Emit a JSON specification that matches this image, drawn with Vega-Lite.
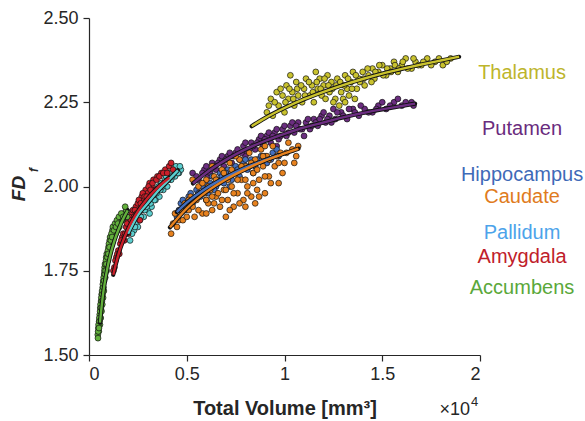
{
  "$schema": "https://vega.github.io/schema/vega-lite/v6.json",
  "width": 391,
  "height": 337,
  "autosize": {"type": "none"},
  "padding": {"left": 89, "top": 18, "right": 105, "bottom": 66},
  "background": "white",
  "config": {
    "view": {"stroke": null},
    "font": "Liberation Sans",
    "axis": {
      "grid": false,
      "domainColor": "#262626",
      "domainWidth": 1.2,
      "tickColor": "#262626",
      "tickWidth": 1.2,
      "tickSize": 6,
      "labelFont": "Liberation Sans",
      "labelFontSize": 18,
      "labelColor": "#262626",
      "titleFont": "Liberation Sans",
      "titleColor": "#262626"
    }
  },
  "datasets": {
    "pts": [
      {"g":"Putamen","v":5300,"fd":2.04},{"g":"Putamen","v":5600,"fd":2.02},{"g":"Putamen","v":5900,"fd":2.05},{"g":"Putamen","v":6100,"fd":2.03},{"g":"Putamen","v":6300,"fd":2.07},{"g":"Putamen","v":6500,"fd":2.05},{"g":"Putamen","v":6700,"fd":2.08},{"g":"Putamen","v":6900,"fd":2.06},{"g":"Putamen","v":7100,"fd":2.09},{"g":"Putamen","v":7300,"fd":2.07},{"g":"Putamen","v":7500,"fd":2.10},{"g":"Putamen","v":7700,"fd":2.08},{"g":"Putamen","v":7900,"fd":2.12},{"g":"Putamen","v":8100,"fd":2.10},{"g":"Putamen","v":8300,"fd":2.13},{"g":"Putamen","v":8500,"fd":2.11},{"g":"Putamen","v":8700,"fd":2.14},{"g":"Putamen","v":8900,"fd":2.12},{"g":"Putamen","v":9100,"fd":2.15},{"g":"Putamen","v":9300,"fd":2.13},{"g":"Putamen","v":9500,"fd":2.16},{"g":"Putamen","v":9700,"fd":2.14},{"g":"Putamen","v":9900,"fd":2.17},{"g":"Putamen","v":10100,"fd":2.15},{"g":"Putamen","v":10300,"fd":2.18},{"g":"Putamen","v":10500,"fd":2.16},{"g":"Putamen","v":10700,"fd":2.19},{"g":"Putamen","v":10900,"fd":2.17},{"g":"Putamen","v":11100,"fd":2.19},{"g":"Putamen","v":11300,"fd":2.17},{"g":"Putamen","v":11500,"fd":2.20},{"g":"Putamen","v":11700,"fd":2.18},{"g":"Putamen","v":11900,"fd":2.21},{"g":"Putamen","v":12100,"fd":2.19},{"g":"Putamen","v":12300,"fd":2.21},{"g":"Putamen","v":12600,"fd":2.20},{"g":"Putamen","v":12900,"fd":2.22},{"g":"Putamen","v":13200,"fd":2.20},{"g":"Putamen","v":13500,"fd":2.23},{"g":"Putamen","v":13800,"fd":2.21},{"g":"Putamen","v":14100,"fd":2.23},{"g":"Putamen","v":14500,"fd":2.22},{"g":"Putamen","v":14800,"fd":2.24},{"g":"Putamen","v":15200,"fd":2.23},{"g":"Putamen","v":15600,"fd":2.25},{"g":"Putamen","v":16000,"fd":2.24},{"g":"Putamen","v":16500,"fd":2.25},{"g":"Putamen","v":8000,"fd":2.09},{"g":"Putamen","v":9600,"fd":2.12},{"g":"Putamen","v":11000,"fd":2.15},{"g":"Putamen","v":7000,"fd":2.04},{"g":"Putamen","v":12500,"fd":2.23},
      {"g":"Putamen","v":5500,"fd":2.03},{"g":"Putamen","v":5800,"fd":2.04},{"g":"Putamen","v":6000,"fd":2.06},{"g":"Putamen","v":6200,"fd":2.04},{"g":"Putamen","v":6400,"fd":2.06},{"g":"Putamen","v":6600,"fd":2.07},{"g":"Putamen","v":6800,"fd":2.09},{"g":"Putamen","v":7000,"fd":2.08},{"g":"Putamen","v":7200,"fd":2.10},{"g":"Putamen","v":7400,"fd":2.09},{"g":"Putamen","v":7600,"fd":2.11},{"g":"Putamen","v":7800,"fd":2.10},{"g":"Putamen","v":8000,"fd":2.13},{"g":"Putamen","v":8200,"fd":2.11},{"g":"Putamen","v":8400,"fd":2.12},{"g":"Putamen","v":8600,"fd":2.13},{"g":"Putamen","v":8800,"fd":2.15},{"g":"Putamen","v":9000,"fd":2.14},{"g":"Putamen","v":9200,"fd":2.16},{"g":"Putamen","v":9400,"fd":2.15},{"g":"Putamen","v":9600,"fd":2.17},{"g":"Putamen","v":9800,"fd":2.15},{"g":"Putamen","v":10000,"fd":2.18},{"g":"Putamen","v":10200,"fd":2.16},{"g":"Putamen","v":10400,"fd":2.19},{"g":"Putamen","v":10600,"fd":2.18},{"g":"Putamen","v":10800,"fd":2.17},{"g":"Putamen","v":11200,"fd":2.20},{"g":"Putamen","v":11400,"fd":2.18},{"g":"Putamen","v":11600,"fd":2.19},{"g":"Putamen","v":11800,"fd":2.20},{"g":"Putamen","v":12000,"fd":2.22},{"g":"Putamen","v":12200,"fd":2.20},{"g":"Putamen","v":12400,"fd":2.19},{"g":"Putamen","v":12700,"fd":2.22},{"g":"Putamen","v":13000,"fd":2.21},{"g":"Putamen","v":13300,"fd":2.23},{"g":"Putamen","v":13600,"fd":2.22},{"g":"Putamen","v":13900,"fd":2.24},{"g":"Putamen","v":14300,"fd":2.22},{"g":"Putamen","v":14700,"fd":2.23},{"g":"Putamen","v":15000,"fd":2.25},{"g":"Putamen","v":15400,"fd":2.24},{"g":"Putamen","v":15800,"fd":2.26},{"g":"Putamen","v":16200,"fd":2.25},{"g":"Putamen","v":16600,"fd":2.24},
      {"g":"Thalamus","v":9100,"fd":2.22},{"g":"Thalamus","v":9300,"fd":2.26},{"g":"Thalamus","v":9400,"fd":2.21},{"g":"Thalamus","v":9600,"fd":2.28},{"g":"Thalamus","v":9700,"fd":2.24},{"g":"Thalamus","v":9900,"fd":2.27},{"g":"Thalamus","v":10000,"fd":2.22},{"g":"Thalamus","v":10100,"fd":2.30},{"g":"Thalamus","v":10200,"fd":2.26},{"g":"Thalamus","v":10400,"fd":2.28},{"g":"Thalamus","v":10500,"fd":2.24},{"g":"Thalamus","v":10600,"fd":2.31},{"g":"Thalamus","v":10700,"fd":2.27},{"g":"Thalamus","v":10900,"fd":2.25},{"g":"Thalamus","v":11000,"fd":2.29},{"g":"Thalamus","v":11100,"fd":2.32},{"g":"Thalamus","v":11300,"fd":2.27},{"g":"Thalamus","v":11400,"fd":2.30},{"g":"Thalamus","v":11500,"fd":2.25},{"g":"Thalamus","v":11700,"fd":2.29},{"g":"Thalamus","v":11800,"fd":2.32},{"g":"Thalamus","v":11900,"fd":2.27},{"g":"Thalamus","v":12000,"fd":2.30},{"g":"Thalamus","v":12200,"fd":2.33},{"g":"Thalamus","v":12300,"fd":2.28},{"g":"Thalamus","v":12400,"fd":2.31},{"g":"Thalamus","v":12600,"fd":2.26},{"g":"Thalamus","v":12700,"fd":2.32},{"g":"Thalamus","v":12900,"fd":2.28},{"g":"Thalamus","v":13000,"fd":2.26},{"g":"Thalamus","v":13100,"fd":2.33},{"g":"Thalamus","v":13200,"fd":2.29},{"g":"Thalamus","v":13400,"fd":2.31},{"g":"Thalamus","v":13500,"fd":2.34},{"g":"Thalamus","v":13700,"fd":2.29},{"g":"Thalamus","v":13800,"fd":2.32},{"g":"Thalamus","v":14000,"fd":2.34},{"g":"Thalamus","v":14100,"fd":2.30},{"g":"Thalamus","v":14300,"fd":2.33},{"g":"Thalamus","v":14500,"fd":2.35},{"g":"Thalamus","v":14600,"fd":2.32},{"g":"Thalamus","v":14800,"fd":2.34},{"g":"Thalamus","v":15000,"fd":2.36},{"g":"Thalamus","v":15200,"fd":2.33},{"g":"Thalamus","v":15400,"fd":2.35},{"g":"Thalamus","v":15600,"fd":2.37},{"g":"Thalamus","v":15800,"fd":2.34},{"g":"Thalamus","v":16000,"fd":2.36},{"g":"Thalamus","v":16200,"fd":2.38},{"g":"Thalamus","v":16500,"fd":2.35},{"g":"Thalamus","v":16700,"fd":2.37},{"g":"Thalamus","v":17000,"fd":2.36},{"g":"Thalamus","v":17300,"fd":2.38},{"g":"Thalamus","v":17700,"fd":2.37},{"g":"Thalamus","v":18100,"fd":2.36},{"g":"Thalamus","v":18500,"fd":2.38},{"g":"Thalamus","v":12500,"fd":2.25},{"g":"Thalamus","v":13300,"fd":2.27},{"g":"Thalamus","v":10300,"fd":2.33},{"g":"Thalamus","v":11600,"fd":2.34},
      {"g":"Thalamus","v":9200,"fd":2.24},{"g":"Thalamus","v":9500,"fd":2.25},{"g":"Thalamus","v":9800,"fd":2.29},{"g":"Thalamus","v":10050,"fd":2.25},{"g":"Thalamus","v":10250,"fd":2.29},{"g":"Thalamus","v":10450,"fd":2.26},{"g":"Thalamus","v":10650,"fd":2.29},{"g":"Thalamus","v":10850,"fd":2.30},{"g":"Thalamus","v":11050,"fd":2.27},{"g":"Thalamus","v":11250,"fd":2.31},{"g":"Thalamus","v":11450,"fd":2.28},{"g":"Thalamus","v":11650,"fd":2.31},{"g":"Thalamus","v":11850,"fd":2.29},{"g":"Thalamus","v":12050,"fd":2.32},{"g":"Thalamus","v":12250,"fd":2.30},{"g":"Thalamus","v":12450,"fd":2.29},{"g":"Thalamus","v":12650,"fd":2.30},{"g":"Thalamus","v":12850,"fd":2.31},{"g":"Thalamus","v":13050,"fd":2.30},{"g":"Thalamus","v":13250,"fd":2.32},{"g":"Thalamus","v":13450,"fd":2.29},{"g":"Thalamus","v":13650,"fd":2.33},{"g":"Thalamus","v":13850,"fd":2.31},{"g":"Thalamus","v":14050,"fd":2.32},{"g":"Thalamus","v":14250,"fd":2.35},{"g":"Thalamus","v":14450,"fd":2.31},{"g":"Thalamus","v":14650,"fd":2.34},{"g":"Thalamus","v":14850,"fd":2.36},{"g":"Thalamus","v":15050,"fd":2.33},{"g":"Thalamus","v":15250,"fd":2.35},{"g":"Thalamus","v":15450,"fd":2.34},{"g":"Thalamus","v":15650,"fd":2.36},{"g":"Thalamus","v":15850,"fd":2.35},{"g":"Thalamus","v":16050,"fd":2.37},{"g":"Thalamus","v":16300,"fd":2.35},{"g":"Thalamus","v":16600,"fd":2.38},{"g":"Thalamus","v":16850,"fd":2.36},{"g":"Thalamus","v":17100,"fd":2.37},{"g":"Thalamus","v":17500,"fd":2.36},{"g":"Thalamus","v":17900,"fd":2.38},{"g":"Thalamus","v":18300,"fd":2.37},{"g":"Thalamus","v":12800,"fd":2.24},{"g":"Thalamus","v":13100,"fd":2.25},{"g":"Thalamus","v":13600,"fd":2.26},{"g":"Thalamus","v":12100,"fd":2.26},
      {"g":"Hippocampus","v":4500,"fd":1.91},{"g":"Hippocampus","v":4700,"fd":1.95},{"g":"Hippocampus","v":4900,"fd":1.93},{"g":"Hippocampus","v":5100,"fd":1.97},{"g":"Hippocampus","v":5300,"fd":1.95},{"g":"Hippocampus","v":5500,"fd":1.99},{"g":"Hippocampus","v":5700,"fd":1.97},{"g":"Hippocampus","v":5900,"fd":2.01},{"g":"Hippocampus","v":6100,"fd":1.98},{"g":"Hippocampus","v":6300,"fd":2.03},{"g":"Hippocampus","v":6500,"fd":2.00},{"g":"Hippocampus","v":6700,"fd":2.04},{"g":"Hippocampus","v":6900,"fd":2.01},{"g":"Hippocampus","v":7100,"fd":2.05},{"g":"Hippocampus","v":7300,"fd":2.02},{"g":"Hippocampus","v":7500,"fd":2.06},{"g":"Hippocampus","v":7700,"fd":2.03},{"g":"Hippocampus","v":7900,"fd":2.07},{"g":"Hippocampus","v":8100,"fd":2.05},{"g":"Hippocampus","v":8300,"fd":2.08},{"g":"Hippocampus","v":8500,"fd":2.06},{"g":"Hippocampus","v":8800,"fd":2.09},{"g":"Hippocampus","v":9100,"fd":2.07},{"g":"Hippocampus","v":9400,"fd":2.10},{"g":"Hippocampus","v":9700,"fd":2.09},{"g":"Hippocampus","v":6000,"fd":1.96},{"g":"Hippocampus","v":7200,"fd":2.00},{"g":"Hippocampus","v":8400,"fd":2.04},
      {"g":"Hippocampus","v":4600,"fd":1.93},{"g":"Hippocampus","v":4800,"fd":1.96},{"g":"Hippocampus","v":5000,"fd":1.95},{"g":"Hippocampus","v":5200,"fd":1.98},{"g":"Hippocampus","v":5400,"fd":1.96},{"g":"Hippocampus","v":5600,"fd":1.98},{"g":"Hippocampus","v":5800,"fd":2.00},{"g":"Hippocampus","v":6200,"fd":2.01},{"g":"Hippocampus","v":6400,"fd":1.99},{"g":"Hippocampus","v":6600,"fd":2.02},{"g":"Hippocampus","v":6800,"fd":2.03},{"g":"Hippocampus","v":7000,"fd":2.04},{"g":"Hippocampus","v":7400,"fd":2.04},{"g":"Hippocampus","v":7600,"fd":2.05},{"g":"Hippocampus","v":7800,"fd":2.06},{"g":"Hippocampus","v":8000,"fd":2.08},{"g":"Hippocampus","v":8200,"fd":2.06},{"g":"Hippocampus","v":8600,"fd":2.08},{"g":"Hippocampus","v":9000,"fd":2.09},{"g":"Hippocampus","v":9300,"fd":2.08},{"g":"Hippocampus","v":9600,"fd":2.11},
      {"g":"Caudate","v":4200,"fd":1.86},{"g":"Caudate","v":4400,"fd":1.92},{"g":"Caudate","v":4600,"fd":1.90},{"g":"Caudate","v":4800,"fd":1.90},{"g":"Caudate","v":4900,"fd":1.95},{"g":"Caudate","v":5100,"fd":1.93},{"g":"Caudate","v":5200,"fd":1.97},{"g":"Caudate","v":5400,"fd":1.91},{"g":"Caudate","v":5500,"fd":1.96},{"g":"Caudate","v":5600,"fd":2.00},{"g":"Caudate","v":5800,"fd":1.92},{"g":"Caudate","v":5900,"fd":1.98},{"g":"Caudate","v":6000,"fd":2.02},{"g":"Caudate","v":6100,"fd":1.95},{"g":"Caudate","v":6200,"fd":1.99},{"g":"Caudate","v":6300,"fd":1.93},{"g":"Caudate","v":6400,"fd":2.03},{"g":"Caudate","v":6500,"fd":1.97},{"g":"Caudate","v":6600,"fd":2.01},{"g":"Caudate","v":6700,"fd":1.94},{"g":"Caudate","v":6800,"fd":2.05},{"g":"Caudate","v":6900,"fd":1.99},{"g":"Caudate","v":7000,"fd":2.03},{"g":"Caudate","v":7100,"fd":1.96},{"g":"Caudate","v":7200,"fd":2.07},{"g":"Caudate","v":7300,"fd":2.00},{"g":"Caudate","v":7400,"fd":1.94},{"g":"Caudate","v":7500,"fd":2.04},{"g":"Caudate","v":7600,"fd":1.98},{"g":"Caudate","v":7700,"fd":2.08},{"g":"Caudate","v":7800,"fd":2.02},{"g":"Caudate","v":7900,"fd":1.96},{"g":"Caudate","v":8000,"fd":2.06},{"g":"Caudate","v":8100,"fd":2.00},{"g":"Caudate","v":8200,"fd":2.10},{"g":"Caudate","v":8300,"fd":1.97},{"g":"Caudate","v":8400,"fd":2.04},{"g":"Caudate","v":8500,"fd":2.08},{"g":"Caudate","v":8600,"fd":1.99},{"g":"Caudate","v":8700,"fd":2.02},{"g":"Caudate","v":8800,"fd":2.11},{"g":"Caudate","v":8900,"fd":2.06},{"g":"Caudate","v":9000,"fd":1.98},{"g":"Caudate","v":9100,"fd":2.09},{"g":"Caudate","v":9200,"fd":2.03},{"g":"Caudate","v":9400,"fd":2.12},{"g":"Caudate","v":9500,"fd":2.06},{"g":"Caudate","v":9700,"fd":2.01},{"g":"Caudate","v":9800,"fd":2.10},{"g":"Caudate","v":10000,"fd":2.07},{"g":"Caudate","v":10200,"fd":2.13},{"g":"Caudate","v":10500,"fd":2.07},{"g":"Caudate","v":10700,"fd":2.12},{"g":"Caudate","v":6300,"fd":2.06},{"g":"Caudate","v":7500,"fd":2.09},{"g":"Caudate","v":5300,"fd":2.02},{"g":"Caudate","v":8500,"fd":1.95},{"g":"Caudate","v":7000,"fd":1.91},
      {"g":"Caudate","v":4300,"fd":1.89},{"g":"Caudate","v":4500,"fd":1.88},{"g":"Caudate","v":4700,"fd":1.93},{"g":"Caudate","v":5000,"fd":1.91},{"g":"Caudate","v":5100,"fd":1.96},{"g":"Caudate","v":5300,"fd":1.94},{"g":"Caudate","v":5600,"fd":1.93},{"g":"Caudate","v":5700,"fd":1.98},{"g":"Caudate","v":5800,"fd":2.01},{"g":"Caudate","v":6000,"fd":1.96},{"g":"Caudate","v":6100,"fd":2.00},{"g":"Caudate","v":6300,"fd":1.97},{"g":"Caudate","v":6400,"fd":1.95},{"g":"Caudate","v":6500,"fd":2.02},{"g":"Caudate","v":6600,"fd":1.98},{"g":"Caudate","v":6800,"fd":1.96},{"g":"Caudate","v":6900,"fd":2.04},{"g":"Caudate","v":7000,"fd":1.99},{"g":"Caudate","v":7100,"fd":2.02},{"g":"Caudate","v":7300,"fd":2.05},{"g":"Caudate","v":7400,"fd":1.98},{"g":"Caudate","v":7600,"fd":2.02},{"g":"Caudate","v":7700,"fd":1.95},{"g":"Caudate","v":7800,"fd":2.06},{"g":"Caudate","v":8000,"fd":2.02},{"g":"Caudate","v":8100,"fd":1.98},{"g":"Caudate","v":8300,"fd":2.07},{"g":"Caudate","v":8400,"fd":2.01},{"g":"Caudate","v":8600,"fd":2.05},{"g":"Caudate","v":8700,"fd":1.97},{"g":"Caudate","v":8900,"fd":2.09},{"g":"Caudate","v":9000,"fd":2.03},{"g":"Caudate","v":9200,"fd":2.08},{"g":"Caudate","v":9300,"fd":2.01},{"g":"Caudate","v":9600,"fd":2.09},{"g":"Caudate","v":9900,"fd":2.04},{"g":"Caudate","v":10100,"fd":2.10},{"g":"Caudate","v":10400,"fd":2.11},{"g":"Caudate","v":10600,"fd":2.09},{"g":"Caudate","v":7200,"fd":1.93},{"g":"Caudate","v":8000,"fd":1.94},{"g":"Caudate","v":9700,"fd":2.07},{"g":"Caudate","v":6000,"fd":1.92},{"g":"Caudate","v":9000,"fd":2.12},
      {"g":"Pallidum","v":2100,"fd":1.84},{"g":"Pallidum","v":2300,"fd":1.87},{"g":"Pallidum","v":2400,"fd":1.89},{"g":"Pallidum","v":2600,"fd":1.90},{"g":"Pallidum","v":2700,"fd":1.93},{"g":"Pallidum","v":2800,"fd":1.91},{"g":"Pallidum","v":2900,"fd":1.95},{"g":"Pallidum","v":3000,"fd":1.93},{"g":"Pallidum","v":3100,"fd":1.96},{"g":"Pallidum","v":3200,"fd":1.94},{"g":"Pallidum","v":3300,"fd":1.98},{"g":"Pallidum","v":3400,"fd":1.96},{"g":"Pallidum","v":3500,"fd":1.99},{"g":"Pallidum","v":3600,"fd":1.97},{"g":"Pallidum","v":3700,"fd":2.01},{"g":"Pallidum","v":3800,"fd":1.99},{"g":"Pallidum","v":3900,"fd":2.02},{"g":"Pallidum","v":4000,"fd":2.00},{"g":"Pallidum","v":4100,"fd":2.03},{"g":"Pallidum","v":4200,"fd":2.02},{"g":"Pallidum","v":4300,"fd":2.04},{"g":"Pallidum","v":4400,"fd":2.03},{"g":"Pallidum","v":4500,"fd":2.05},{"g":"Pallidum","v":4600,"fd":2.04},{"g":"Pallidum","v":4700,"fd":2.05},{"g":"Pallidum","v":2500,"fd":1.88},{"g":"Pallidum","v":3100,"fd":1.92},{"g":"Pallidum","v":3600,"fd":2.00},
      {"g":"Pallidum","v":2200,"fd":1.86},{"g":"Pallidum","v":2350,"fd":1.88},{"g":"Pallidum","v":2450,"fd":1.91},{"g":"Pallidum","v":2550,"fd":1.92},{"g":"Pallidum","v":2650,"fd":1.91},{"g":"Pallidum","v":2750,"fd":1.94},{"g":"Pallidum","v":2850,"fd":1.93},{"g":"Pallidum","v":2950,"fd":1.94},{"g":"Pallidum","v":3050,"fd":1.97},{"g":"Pallidum","v":3150,"fd":1.95},{"g":"Pallidum","v":3250,"fd":1.97},{"g":"Pallidum","v":3350,"fd":1.96},{"g":"Pallidum","v":3450,"fd":1.98},{"g":"Pallidum","v":3550,"fd":2.00},{"g":"Pallidum","v":3650,"fd":1.99},{"g":"Pallidum","v":3750,"fd":2.00},{"g":"Pallidum","v":3850,"fd":2.01},{"g":"Pallidum","v":3950,"fd":2.03},{"g":"Pallidum","v":4050,"fd":2.02},{"g":"Pallidum","v":4150,"fd":2.04},{"g":"Pallidum","v":4250,"fd":2.03},{"g":"Pallidum","v":4350,"fd":2.05},{"g":"Pallidum","v":4450,"fd":2.06},{"g":"Pallidum","v":4550,"fd":2.04},{"g":"Pallidum","v":4650,"fd":2.06},
      {"g":"Amygdala","v":1300,"fd":1.76},{"g":"Amygdala","v":1400,"fd":1.79},{"g":"Amygdala","v":1500,"fd":1.81},{"g":"Amygdala","v":1600,"fd":1.83},{"g":"Amygdala","v":1700,"fd":1.85},{"g":"Amygdala","v":1800,"fd":1.84},{"g":"Amygdala","v":1900,"fd":1.88},{"g":"Amygdala","v":2000,"fd":1.90},{"g":"Amygdala","v":2100,"fd":1.89},{"g":"Amygdala","v":2200,"fd":1.92},{"g":"Amygdala","v":2300,"fd":1.91},{"g":"Amygdala","v":2400,"fd":1.94},{"g":"Amygdala","v":2500,"fd":1.95},{"g":"Amygdala","v":2600,"fd":1.93},{"g":"Amygdala","v":2700,"fd":1.97},{"g":"Amygdala","v":2800,"fd":1.96},{"g":"Amygdala","v":2900,"fd":1.99},{"g":"Amygdala","v":3000,"fd":1.98},{"g":"Amygdala","v":3100,"fd":2.01},{"g":"Amygdala","v":3200,"fd":2.00},{"g":"Amygdala","v":3300,"fd":2.02},{"g":"Amygdala","v":3500,"fd":2.03},{"g":"Amygdala","v":3700,"fd":2.04},{"g":"Amygdala","v":3900,"fd":2.05},{"g":"Amygdala","v":4100,"fd":2.06},{"g":"Amygdala","v":4300,"fd":2.05},{"g":"Amygdala","v":2000,"fd":1.86},{"g":"Amygdala","v":2600,"fd":1.90},{"g":"Amygdala","v":3400,"fd":1.99},
      {"g":"Amygdala","v":1250,"fd":1.75},{"g":"Amygdala","v":1350,"fd":1.78},{"g":"Amygdala","v":1450,"fd":1.80},{"g":"Amygdala","v":1550,"fd":1.80},{"g":"Amygdala","v":1650,"fd":1.84},{"g":"Amygdala","v":1750,"fd":1.86},{"g":"Amygdala","v":1850,"fd":1.86},{"g":"Amygdala","v":1950,"fd":1.89},{"g":"Amygdala","v":2050,"fd":1.91},{"g":"Amygdala","v":2150,"fd":1.90},{"g":"Amygdala","v":2250,"fd":1.93},{"g":"Amygdala","v":2350,"fd":1.93},{"g":"Amygdala","v":2450,"fd":1.92},{"g":"Amygdala","v":2550,"fd":1.96},{"g":"Amygdala","v":2650,"fd":1.95},{"g":"Amygdala","v":2750,"fd":1.98},{"g":"Amygdala","v":2850,"fd":1.97},{"g":"Amygdala","v":2950,"fd":1.97},{"g":"Amygdala","v":3050,"fd":2.00},{"g":"Amygdala","v":3150,"fd":1.99},{"g":"Amygdala","v":3250,"fd":2.01},{"g":"Amygdala","v":3450,"fd":2.02},{"g":"Amygdala","v":3600,"fd":2.03},{"g":"Amygdala","v":3800,"fd":2.04},{"g":"Amygdala","v":4000,"fd":2.04},{"g":"Amygdala","v":4200,"fd":2.07},
      {"g":"Accumbens","v":450,"fd":1.56},{"g":"Accumbens","v":480,"fd":1.58},{"g":"Accumbens","v":520,"fd":1.60},{"g":"Accumbens","v":550,"fd":1.62},{"g":"Accumbens","v":580,"fd":1.64},{"g":"Accumbens","v":600,"fd":1.61},{"g":"Accumbens","v":620,"fd":1.66},{"g":"Accumbens","v":650,"fd":1.68},{"g":"Accumbens","v":680,"fd":1.65},{"g":"Accumbens","v":700,"fd":1.70},{"g":"Accumbens","v":730,"fd":1.72},{"g":"Accumbens","v":760,"fd":1.69},{"g":"Accumbens","v":780,"fd":1.74},{"g":"Accumbens","v":800,"fd":1.76},{"g":"Accumbens","v":830,"fd":1.73},{"g":"Accumbens","v":860,"fd":1.77},{"g":"Accumbens","v":880,"fd":1.79},{"g":"Accumbens","v":900,"fd":1.75},{"g":"Accumbens","v":930,"fd":1.80},{"g":"Accumbens","v":960,"fd":1.78},{"g":"Accumbens","v":1000,"fd":1.82},{"g":"Accumbens","v":1030,"fd":1.80},{"g":"Accumbens","v":1060,"fd":1.84},{"g":"Accumbens","v":1100,"fd":1.82},{"g":"Accumbens","v":1130,"fd":1.85},{"g":"Accumbens","v":1160,"fd":1.83},{"g":"Accumbens","v":1200,"fd":1.87},{"g":"Accumbens","v":1250,"fd":1.85},{"g":"Accumbens","v":1300,"fd":1.88},{"g":"Accumbens","v":1350,"fd":1.86},{"g":"Accumbens","v":1400,"fd":1.89},{"g":"Accumbens","v":1450,"fd":1.87},{"g":"Accumbens","v":1500,"fd":1.90},{"g":"Accumbens","v":1550,"fd":1.88},{"g":"Accumbens","v":1600,"fd":1.91},{"g":"Accumbens","v":1700,"fd":1.90},{"g":"Accumbens","v":1800,"fd":1.92},{"g":"Accumbens","v":1900,"fd":1.93},{"g":"Accumbens","v":1950,"fd":1.91},{"g":"Accumbens","v":500,"fd":1.57},{"g":"Accumbens","v":560,"fd":1.59},{"g":"Accumbens","v":640,"fd":1.63},{"g":"Accumbens","v":720,"fd":1.67},
      {"g":"Accumbens","v":460,"fd":1.55},{"g":"Accumbens","v":470,"fd":1.57},{"g":"Accumbens","v":490,"fd":1.59},{"g":"Accumbens","v":510,"fd":1.58},{"g":"Accumbens","v":530,"fd":1.61},{"g":"Accumbens","v":540,"fd":1.60},{"g":"Accumbens","v":570,"fd":1.63},{"g":"Accumbens","v":590,"fd":1.65},{"g":"Accumbens","v":610,"fd":1.64},{"g":"Accumbens","v":630,"fd":1.67},{"g":"Accumbens","v":660,"fd":1.66},{"g":"Accumbens","v":670,"fd":1.69},{"g":"Accumbens","v":690,"fd":1.68},{"g":"Accumbens","v":710,"fd":1.71},{"g":"Accumbens","v":740,"fd":1.70},{"g":"Accumbens","v":750,"fd":1.73},{"g":"Accumbens","v":770,"fd":1.72},{"g":"Accumbens","v":790,"fd":1.75},{"g":"Accumbens","v":810,"fd":1.74},{"g":"Accumbens","v":820,"fd":1.77},{"g":"Accumbens","v":850,"fd":1.75},{"g":"Accumbens","v":870,"fd":1.78},{"g":"Accumbens","v":890,"fd":1.77},{"g":"Accumbens","v":910,"fd":1.80},{"g":"Accumbens","v":940,"fd":1.79},{"g":"Accumbens","v":970,"fd":1.81},{"g":"Accumbens","v":990,"fd":1.80},{"g":"Accumbens","v":1020,"fd":1.83},{"g":"Accumbens","v":1050,"fd":1.82},{"g":"Accumbens","v":1080,"fd":1.85},{"g":"Accumbens","v":1120,"fd":1.84},{"g":"Accumbens","v":1150,"fd":1.86},{"g":"Accumbens","v":1180,"fd":1.85},{"g":"Accumbens","v":1220,"fd":1.88},{"g":"Accumbens","v":1280,"fd":1.87},{"g":"Accumbens","v":1330,"fd":1.89},{"g":"Accumbens","v":1380,"fd":1.88},{"g":"Accumbens","v":1430,"fd":1.90},{"g":"Accumbens","v":1480,"fd":1.89},{"g":"Accumbens","v":1530,"fd":1.91},{"g":"Accumbens","v":1650,"fd":1.92},{"g":"Accumbens","v":1750,"fd":1.91},{"g":"Accumbens","v":1850,"fd":1.94}
    ],
    "fits": [
      {"g":"Thalamus","v":8320,"fd":2.179},{"g":"Thalamus","v":9000,"fd":2.203},{"g":"Thalamus","v":10000,"fd":2.233},{"g":"Thalamus","v":11000,"fd":2.259},{"g":"Thalamus","v":12000,"fd":2.281},{"g":"Thalamus","v":13000,"fd":2.301},{"g":"Thalamus","v":14000,"fd":2.319},{"g":"Thalamus","v":15000,"fd":2.335},{"g":"Thalamus","v":16000,"fd":2.349},{"g":"Thalamus","v":17000,"fd":2.362},{"g":"Thalamus","v":18000,"fd":2.374},{"g":"Thalamus","v":18930,"fd":2.385},
      {"g":"Putamen","v":5320,"fd":2.009},{"g":"Putamen","v":6000,"fd":2.041},{"g":"Putamen","v":7000,"fd":2.079},{"g":"Putamen","v":8000,"fd":2.110},{"g":"Putamen","v":9000,"fd":2.135},{"g":"Putamen","v":10000,"fd":2.156},{"g":"Putamen","v":11000,"fd":2.175},{"g":"Putamen","v":12000,"fd":2.190},{"g":"Putamen","v":13000,"fd":2.205},{"g":"Putamen","v":14000,"fd":2.218},{"g":"Putamen","v":15000,"fd":2.229},{"g":"Putamen","v":16000,"fd":2.239},{"g":"Putamen","v":16680,"fd":2.246},
      {"g":"Hippocampus","v":4490,"fd":1.924},{"g":"Hippocampus","v":5000,"fd":1.952},{"g":"Hippocampus","v":6000,"fd":1.995},{"g":"Hippocampus","v":7000,"fd":2.028},{"g":"Hippocampus","v":8000,"fd":2.056},{"g":"Hippocampus","v":9000,"fd":2.078},{"g":"Hippocampus","v":9680,"fd":2.092},
      {"g":"Caudate","v":4140,"fd":1.879},{"g":"Caudate","v":5000,"fd":1.935},{"g":"Caudate","v":6000,"fd":1.984},{"g":"Caudate","v":7000,"fd":2.021},{"g":"Caudate","v":8000,"fd":2.051},{"g":"Caudate","v":9000,"fd":2.077},{"g":"Caudate","v":10000,"fd":2.098},{"g":"Caudate","v":10710,"fd":2.112},
      {"g":"Pallidum","v":2000,"fd":1.860},{"g":"Pallidum","v":2500,"fd":1.915},{"g":"Pallidum","v":3000,"fd":1.950},{"g":"Pallidum","v":3500,"fd":1.985},{"g":"Pallidum","v":4000,"fd":2.015},{"g":"Pallidum","v":4550,"fd":2.048},
      {"g":"Amygdala","v":1240,"fd":1.738},{"g":"Amygdala","v":1500,"fd":1.797},{"g":"Amygdala","v":2000,"fd":1.874},{"g":"Amygdala","v":2500,"fd":1.926},{"g":"Amygdala","v":3000,"fd":1.965},{"g":"Amygdala","v":3500,"fd":1.996},{"g":"Amygdala","v":4110,"fd":2.026},
      {"g":"Accumbens","v":560,"fd":1.596},{"g":"Accumbens","v":700,"fd":1.672},{"g":"Accumbens","v":900,"fd":1.746},{"g":"Accumbens","v":1100,"fd":1.799},{"g":"Accumbens","v":1300,"fd":1.839},{"g":"Accumbens","v":1500,"fd":1.871},{"g":"Accumbens","v":1700,"fd":1.898},{"g":"Accumbens","v":1980,"fd":1.929}
    ],
    "labels": [
      {"name":"Thalamus","v":22150,"fd":2.336},
      {"name":"Putamen","v":22150,"fd":2.170},
      {"name":"Hippocampus","v":22150,"fd":2.034},
      {"name":"Caudate","v":22150,"fd":1.970},
      {"name":"Pallidum","v":22150,"fd":1.861},
      {"name":"Amygdala","v":22150,"fd":1.792},
      {"name":"Accumbens","v":22150,"fd":1.698}
    ],
    "mult": [
      {"t":"×10","v":19490,"fd":1.322}
    ],
    "exp": [
      {"t":"4","v":19540,"fd":1.349}
    ],
    "sub": [
      {"t":"f","v":-2813,"fd":2.049}
    ]
  },
  "encoding": {
    "x": {
      "field": "v", "type": "quantitative",
      "scale": {"domain": [0, 20000], "nice": false, "zero": false},
      "axis": {
        "values": [0, 5000, 10000, 15000, 20000],
        "labelExpr": "datum.value / 10000",
        "labelPadding": 4,
        "title": "Total Volume [mm³]",
        "titleFontSize": 20,
        "titleFontWeight": "bold",
        "titleBaseline": "alphabetic",
        "titleY": 59
      }
    },
    "y": {
      "field": "fd", "type": "quantitative",
      "scale": {"domain": [1.5, 2.5], "nice": false, "zero": false},
      "axis": {
        "values": [1.5, 1.75, 2.0, 2.25, 2.5],
        "format": ".2f",
        "labelPadding": 5,
        "title": "FD",
        "titleFontSize": 19,
        "titleFontWeight": "bold",
        "titleFontStyle": "italic",
        "titleAngle": 270,
        "titleAlign": "center",
        "titleBaseline": "middle",
        "titleX": -71,
        "titleY": 170
      }
    }
  },
  "layer": [
    {
      "data": {"name": "pts"},
      "mark": {"type": "circle", "size": 34, "opacity": 1, "stroke": "#111111", "strokeWidth": 0.7},
      "encoding": {
        "color": {
          "field": "g", "type": "nominal", "legend": null,
          "scale": {
            "domain": ["Thalamus","Putamen","Hippocampus","Caudate","Pallidum","Amygdala","Accumbens"],
            "range": ["#c9c22e","#6b2d80","#4470c0","#e8821e","#5ccfd0","#cc1f2a","#62b03c"]
          }
        }
      }
    },
    {
      "data": {"name": "fits"},
      "mark": {"type": "line", "color": "#111111", "strokeWidth": 4.2, "strokeCap": "round", "interpolate": "monotone"},
      "encoding": {"detail": {"field": "g", "type": "nominal"}}
    },
    {
      "data": {"name": "fits"},
      "mark": {"type": "line", "strokeWidth": 2.4, "interpolate": "monotone"},
      "encoding": {
        "color": {
          "field": "g", "type": "nominal", "legend": null,
          "scale": {
            "domain": ["Thalamus","Putamen","Hippocampus","Caudate","Pallidum","Amygdala","Accumbens"],
            "range": ["#c9c22e","#6b2d80","#4470c0","#e8821e","#5ccfd0","#cc1f2a","#62b03c"]
          }
        }
      }
    },
    {
      "data": {"name": "labels"},
      "mark": {"type": "text", "fontSize": 20, "font": "Liberation Sans", "align": "center", "baseline": "middle"},
      "encoding": {
        "text": {"field": "name", "type": "nominal"},
        "color": {
          "field": "name", "type": "nominal", "legend": null,
          "scale": {
            "domain": ["Thalamus","Putamen","Hippocampus","Caudate","Pallidum","Amygdala","Accumbens"],
            "range": ["#bdb52c","#6a2c7e","#3f6ab8","#e07b20","#4ca3ea","#c0202a","#5aa83a"]
          }
        }
      }
    },
    {
      "data": {"name": "mult"},
      "mark": {"type": "text", "fontSize": 18, "font": "Liberation Sans", "align": "right", "baseline": "alphabetic", "color": "#262626"},
      "encoding": {"text": {"field": "t", "type": "nominal"}}
    },
    {
      "data": {"name": "exp"},
      "mark": {"type": "text", "fontSize": 13, "font": "Liberation Sans", "align": "left", "baseline": "alphabetic", "color": "#262626"},
      "encoding": {"text": {"field": "t", "type": "nominal"}}
    },
    {
      "data": {"name": "sub"},
      "mark": {"type": "text", "fontSize": 12, "font": "Liberation Sans", "fontWeight": "bold", "fontStyle": "italic", "angle": 270, "align": "center", "baseline": "middle", "color": "#262626"},
      "encoding": {"text": {"field": "t", "type": "nominal"}}
    }
  ],
  "resolve": {"scale": {"color": "independent"}}
}
